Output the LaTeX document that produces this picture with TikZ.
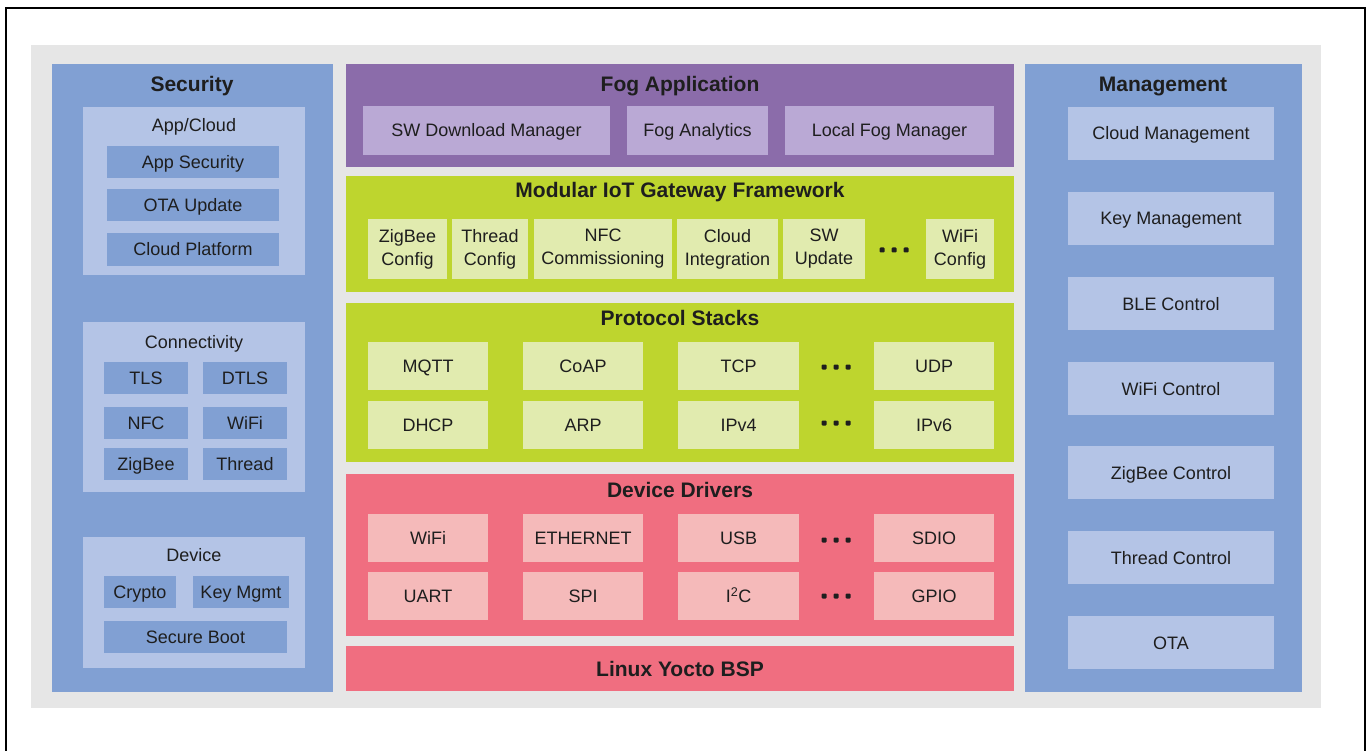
\documentclass[tikz,border=0pt]{standalone}
\usepackage{fontspec}
\setmainfont{Liberation Sans}
\definecolor{bggray}{RGB}{230,230,230}
\definecolor{secblue}{RGB}{129,160,211}
\definecolor{seclight}{RGB}{180,196,230}
\definecolor{fogpurple}{RGB}{139,108,170}
\definecolor{foglight}{RGB}{186,169,213}
\definecolor{gwgreen}{RGB}{190,213,46}
\definecolor{gwlight}{RGB}{225,235,175}
\definecolor{drvpink}{RGB}{240,110,128}
\definecolor{drvlight}{RGB}{245,186,186}
\definecolor{txt}{RGB}{30,30,30}
\tikzset{
  blk2/.style={draw=none, inner sep=0pt, outer sep=0pt, anchor=north west, text=txt, align=center,
    font=\fontsize{18}{23}\selectfont},
  blk/.style={blk2, text height=13pt, text depth=0pt},
  panel/.style={blk2},
  ttl/.style={inner sep=0pt, text=txt, text height=15pt, text depth=0pt, font=\fontsize{21}{25}\selectfont\bfseries},
  lbl/.style={inner sep=0pt, text=txt, text height=13pt, text depth=0pt, font=\fontsize{18}{23}\selectfont},
  dotm/.style={rectangle, rounded corners=1pt, fill=txt, inner sep=0pt, minimum size=5pt},
}
\begin{document}
\begin{tikzpicture}[x=1pt, y=-1pt]
\useasboundingbox (0,0) rectangle (1367,751);
% frame
\draw[line width=2pt, black] (6,751) -- (6,8) -- (1365,8) -- (1365,751);
% background
\node[panel, fill=bggray, minimum width=1290pt, minimum height=663pt] (bg) at (31,45) {};

% ---------------- Security ----------------
\node[panel, fill=secblue, minimum width=281pt, minimum height=628pt] (sec) at (52,64) {};
\node[ttl] (secT) at (192,84) {Security};
\node[panel, fill=seclight, minimum width=222pt, minimum height=168pt] (appc) at (83,107) {};
\node[lbl] (appcT) at (194,125) {App/Cloud};
\node[blk, fill=secblue, minimum width=172pt, minimum height=32pt] (appsec) at (107,146) {App Security};
\node[blk, fill=secblue, minimum width=172pt, minimum height=32pt] (otaup) at (107,189) {OTA Update};
\node[blk, fill=secblue, minimum width=172pt, minimum height=33pt] (cloudp) at (107,233) {Cloud Platform};

\node[panel, fill=seclight, minimum width=222pt, minimum height=170pt] (conn) at (83,322) {};
\node[lbl] (connT) at (194,342) {Connectivity};
\node[blk, fill=secblue, minimum width=84pt, minimum height=32pt] (tls) at (104,362) {TLS};
\node[blk, fill=secblue, minimum width=84pt, minimum height=32pt] (dtls) at (203,362) {DTLS};
\node[blk, fill=secblue, minimum width=84pt, minimum height=32pt] (nfc) at (104,407) {NFC};
\node[blk, fill=secblue, minimum width=84pt, minimum height=32pt] (wifis) at (203,407) {WiFi};
\node[blk, fill=secblue, minimum width=84pt, minimum height=32pt] (zigs) at (104,448) {ZigBee};
\node[blk, fill=secblue, minimum width=84pt, minimum height=32pt] (threads) at (203,448) {Thread};

\node[panel, fill=seclight, minimum width=222pt, minimum height=131pt] (dev) at (83,537) {};
\node[lbl] (devT) at (194,555) {Device};
\node[blk, fill=secblue, minimum width=72pt, minimum height=32pt] (crypto) at (104,576) {Crypto};
\node[blk, fill=secblue, minimum width=96pt, minimum height=32pt] (keym) at (193,576) {Key Mgmt};
\node[blk, fill=secblue, minimum width=183pt, minimum height=32pt] (sboot) at (104,621) {Secure Boot};

% ---------------- Fog Application ----------------
\node[panel, fill=fogpurple, minimum width=668pt, minimum height=103pt] (fog) at (346,64) {};
\node[ttl] (fogT) at (680,84) {Fog Application};
\node[blk, fill=foglight, minimum width=247pt, minimum height=49pt] (swdl) at (363,106) {SW Download Manager};
\node[blk, fill=foglight, minimum width=141pt, minimum height=49pt] (foga) at (627,106) {Fog Analytics};
\node[blk, fill=foglight, minimum width=209pt, minimum height=49pt] (lfm) at (785,106) {Local Fog Manager};

% ---------------- Gateway Framework ----------------
\node[panel, fill=gwgreen, minimum width=668pt, minimum height=116pt] (gw) at (346,176) {};
\node[ttl] (gwT) at (680,190) {Modular IoT Gateway Framework};
\node[blk2, fill=gwlight, minimum width=79pt, minimum height=60pt] (zbc) at (368,219) {ZigBee\\Config};
\node[blk2, fill=gwlight, minimum width=76pt, minimum height=60pt] (thc) at (452,219) {Thread\\Config};
\node[blk2, fill=gwlight, minimum width=138pt, minimum height=60pt] (nfcc) at (534,219) {NFC\\Commissioning};
\node[blk2, fill=gwlight, minimum width=101pt, minimum height=60pt] (cli) at (677,219) {Cloud\\Integration};
\node[blk2, fill=gwlight, minimum width=82pt, minimum height=60pt] (swu) at (783,219) {SW\\Update};
\node[dotm] (gwd1) at (882,250) {};
\node[dotm] (gwd2) at (894,250) {};
\node[dotm] (gwd3) at (906,250) {};
\node[blk2, fill=gwlight, minimum width=68pt, minimum height=60pt] (wfc) at (926,219) {WiFi\\Config};

% ---------------- Protocol Stacks ----------------
\node[panel, fill=gwgreen, minimum width=668pt, minimum height=159pt] (ps) at (346,303) {};
\node[ttl] (psT) at (680,318) {Protocol Stacks};
\node[blk, fill=gwlight, minimum width=120pt, minimum height=48pt] (mqtt) at (368,342) {MQTT};
\node[blk, fill=gwlight, minimum width=120pt, minimum height=48pt] (coap) at (523,342) {CoAP};
\node[blk, fill=gwlight, minimum width=121pt, minimum height=48pt] (tcp) at (678,342) {TCP};
\node[dotm] (psa1) at (824,367) {};
\node[dotm] (psa2) at (836,367) {};
\node[dotm] (psa3) at (848,367) {};
\node[blk, fill=gwlight, minimum width=120pt, minimum height=48pt] (udp) at (874,342) {UDP};
\node[blk, fill=gwlight, minimum width=120pt, minimum height=48pt] (dhcp) at (368,401) {DHCP};
\node[blk, fill=gwlight, minimum width=120pt, minimum height=48pt] (arp) at (523,401) {ARP};
\node[blk, fill=gwlight, minimum width=121pt, minimum height=48pt] (ipv4) at (678,401) {IPv4};
\node[dotm] (psb1) at (824,423) {};
\node[dotm] (psb2) at (836,423) {};
\node[dotm] (psb3) at (848,423) {};
\node[blk, fill=gwlight, minimum width=120pt, minimum height=48pt] (ipv6) at (874,401) {IPv6};

% ---------------- Device Drivers ----------------
\node[panel, fill=drvpink, minimum width=668pt, minimum height=162pt] (dd) at (346,474) {};
\node[ttl] (ddT) at (680,490) {Device Drivers};
\node[blk, fill=drvlight, minimum width=120pt, minimum height=48pt] (dwifi) at (368,514) {WiFi};
\node[blk, fill=drvlight, minimum width=120pt, minimum height=48pt] (eth) at (523,514) {ETHERNET};
\node[blk, fill=drvlight, minimum width=121pt, minimum height=48pt] (usb) at (678,514) {USB};
\node[dotm] (dda1) at (824,540) {};
\node[dotm] (dda2) at (836,540) {};
\node[dotm] (dda3) at (848,540) {};
\node[blk, fill=drvlight, minimum width=120pt, minimum height=48pt] (sdio) at (874,514) {SDIO};
\node[blk, fill=drvlight, minimum width=120pt, minimum height=48pt] (uart) at (368,572) {UART};
\node[blk, fill=drvlight, minimum width=120pt, minimum height=48pt] (spi) at (523,572) {SPI};
\node[blk, fill=drvlight, minimum width=121pt, minimum height=48pt] (i2c) at (678,572) {I\textsuperscript{2}C};
\node[dotm] (ddb1) at (824,596) {};
\node[dotm] (ddb2) at (836,596) {};
\node[dotm] (ddb3) at (848,596) {};
\node[blk, fill=drvlight, minimum width=120pt, minimum height=48pt] (gpio) at (874,572) {GPIO};

% ---------------- Linux ----------------
\node[panel, fill=drvpink, minimum width=668pt, minimum height=45pt, text height=15pt, text depth=0pt,
  font=\fontsize{21}{25}\selectfont\bfseries] (bsp) at (346,646) {Linux Yocto BSP};

% ---------------- Management ----------------
\node[panel, fill=secblue, minimum width=277pt, minimum height=628pt] (mgmt) at (1025,64) {};
\node[ttl] (mgmtT) at (1163,84) {Management};
\node[blk, fill=seclight, minimum width=206pt, minimum height=53pt] (cm) at (1068,107) {Cloud Management};
\node[blk, fill=seclight, minimum width=206pt, minimum height=53pt] (km) at (1068,192) {Key Management};
\node[blk, fill=seclight, minimum width=206pt, minimum height=53pt] (ble) at (1068,277) {BLE Control};
\node[blk, fill=seclight, minimum width=206pt, minimum height=53pt] (wfctl) at (1068,362) {WiFi Control};
\node[blk, fill=seclight, minimum width=206pt, minimum height=53pt] (zbctl) at (1068,446) {ZigBee Control};
\node[blk, fill=seclight, minimum width=206pt, minimum height=53pt] (thctl) at (1068,531) {Thread Control};
\node[blk, fill=seclight, minimum width=206pt, minimum height=53pt] (ota) at (1068,616) {OTA};
\end{tikzpicture}
\end{document}
